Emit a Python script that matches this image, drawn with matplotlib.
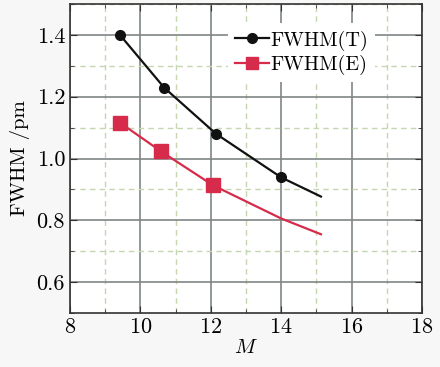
import matplotlib
matplotlib.use("Agg")
import matplotlib.pyplot as plt
from matplotlib.ticker import MultipleLocator

plt.rcParams['font.family'] = ['cmr10', 'DejaVu Serif']
plt.rcParams['mathtext.fontset'] = 'cm'
plt.rcParams['axes.formatter.use_mathtext'] = True

# Data
m_theory = [9.42, 10.68, 12.15, 14.0, 15.13]
fwhm_theory = [1.40, 1.229, 1.080, 0.939, 0.877]
m_exp = [9.42, 10.59, 12.07, 14.0, 15.13]
fwhm_exp = [1.116, 1.023, 0.913, 0.806, 0.755]
theory_marked = 4
exp_marked = 3

fig = plt.figure(figsize=(4.4, 3.67), dpi=100, facecolor='#f7f7f7')
ax = fig.add_axes([0.159, 0.147, 0.8, 0.842])
ax.set_facecolor('white')

black = '#111111'
red = '#d62b4b'

ax.plot(m_theory, fwhm_theory, color=black, lw=1.6, zorder=3)
ax.plot(m_theory[:theory_marked], fwhm_theory[:theory_marked], 'o', color=black, ms=7, zorder=4)
ax.plot(m_exp, fwhm_exp, color=red, lw=1.6, zorder=3)
ax.plot(m_exp[:exp_marked], fwhm_exp[:exp_marked], 's', color=red, ms=10, zorder=4)

# legend proxies
h1, = ax.plot([], [], '-o', color=black, lw=1.6, ms=7)
h2, = ax.plot([], [], '-s', color=red, lw=1.6, ms=8)
leg = ax.legend([h1, h2], ['FWHM(T)', 'FWHM(E)'], loc='upper left',
                bbox_to_anchor=(0.42, 0.97), frameon=True, fontsize=14.5,
                handlelength=1.7, handletextpad=0.05, labelspacing=0.2,
                borderpad=0.35, fancybox=False)
leg.get_frame().set_edgecolor('none')
leg.get_frame().set_facecolor('white')
leg.get_frame().set_alpha(1)

ax.set_xlim(8, 18)
ax.set_ylim(0.5, 1.5)
ax.xaxis.set_major_locator(MultipleLocator(2))
ax.xaxis.set_minor_locator(MultipleLocator(1))
ax.yaxis.set_minor_locator(MultipleLocator(0.1))
ax.set_yticks([0.6, 0.8, 1.0, 1.2, 1.4])
ax.set_yticklabels(['0.6', '0.8', '1.0', '1.2', '1.4'])

ax.grid(which='major', color='#7f8585', lw=1.2, ls='-', zorder=0)
ax.grid(which='minor', color='#c6d6b0', lw=1.0, ls=(0, (4, 3)), zorder=0)
ax.set_axisbelow(True)

ax.tick_params(which='both', direction='in', top=True, right=True,
               labelsize=16, color='#333333')
ax.tick_params(which='major', length=5)
ax.tick_params(which='minor', length=3)
for s in ax.spines.values():
    s.set_color('#333333')
    s.set_linewidth(1.2)

ax.set_xlabel('$M$', fontsize=15, labelpad=1)
ax.set_ylabel('FWHM /pm', fontsize=15, labelpad=5)

fig.savefig('out.png', dpi=100, facecolor=fig.get_facecolor())
